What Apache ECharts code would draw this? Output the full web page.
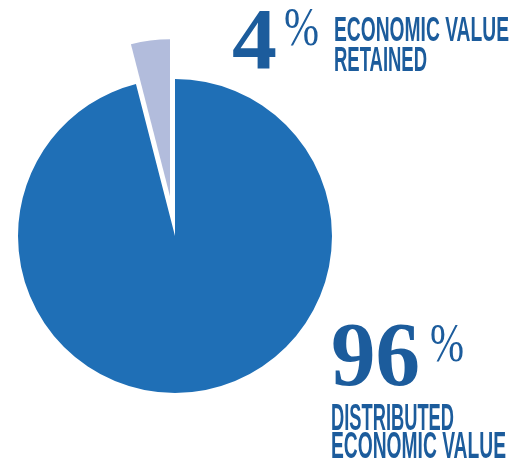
<!DOCTYPE html>
<html>
<head>
<meta charset="utf-8">
<script src="https://cdn.jsdelivr.net/npm/echarts@6/dist/echarts.min.js"></script>
<style>
  html, body { margin: 0; padding: 0; background: #ffffff; }
  #chart { width: 516px; height: 463px; }
</style>
</head>
<body>
<div id="chart"></div>
<script>
// Economic value split, in percent
const categories = ['DISTRIBUTED ECONOMIC VALUE', 'ECONOMIC VALUE RETAINED'];
const values = [96, 4];
const labelLines = [['DISTRIBUTED', 'ECONOMIC VALUE'], ['ECONOMIC VALUE', 'RETAINED']];
const sliceColors = ['#1f6fb6', '#b2bcdc'];

const textBlue = '#1c5c9c';
const serif = '"Liberation Serif", "DejaVu Serif", serif';
const sans = '"Liberation Sans", Arial, sans-serif';

// width of a string in a given canvas font, used to squeeze text into a condensed look
const ctx = document.createElement('canvas').getContext('2d');
function measure(str, font) { ctx.font = font; return ctx.measureText(str).width; }

// text element scaled horizontally so that it spans the given width
function fitText(str, left, cy, width, size, weight, family) {
  const font = weight + ' ' + size + 'px ' + family;
  const w = measure(str, font);
  return {
    type: 'text', x: left, y: cy, scaleX: width / w, silent: true,
    style: { text: str, x: 0, y: 0, fill: textBlue, font: font, align: 'left', verticalAlign: 'middle' }
  };
}

const chart = echarts.init(document.getElementById('chart'), null, { renderer: 'canvas' });

const graphics = [
  // retained share
  fitText(String(values[1]), 232, 46, 45, 87, 'bold', serif),
  fitText('%', 284, 31, 35, 54, 'normal', serif),
  fitText(labelLines[1][0], 334, 31.5, 175, 35.5, 'bold', sans),
  fitText(labelLines[1][1], 334, 61.5, 93, 35.5, 'bold', sans),
  // distributed share
  fitText(String(values[0]), 331, 361, 89, 92, 'bold', serif),
  fitText('%', 430, 346.5, 34, 54, 'normal', serif),
  fitText(labelLines[0][0], 331, 419.5, 123, 36.5, 'bold', sans),
  fitText(labelLines[0][1], 331, 447.5, 175, 36.5, 'bold', sans)
];

chart.setOption({
  animation: false,
  backgroundColor: '#ffffff',
  series: [{
    type: 'pie',
    center: [175, 236],
    radius: 157,
    startAngle: 90,
    clockwise: true,
    selectedMode: 'single',
    selectedOffset: 40,
    label: { show: false },
    labelLine: { show: false },
    emphasis: { disabled: true },
    itemStyle: { borderWidth: 0 },
    data: categories.map((name, i) => ({
      name: name,
      value: values[i],
      selected: i === 1,
      itemStyle: { color: sliceColors[i] }
    }))
  }],
  graphic: graphics
});
</script>
</body>
</html>
